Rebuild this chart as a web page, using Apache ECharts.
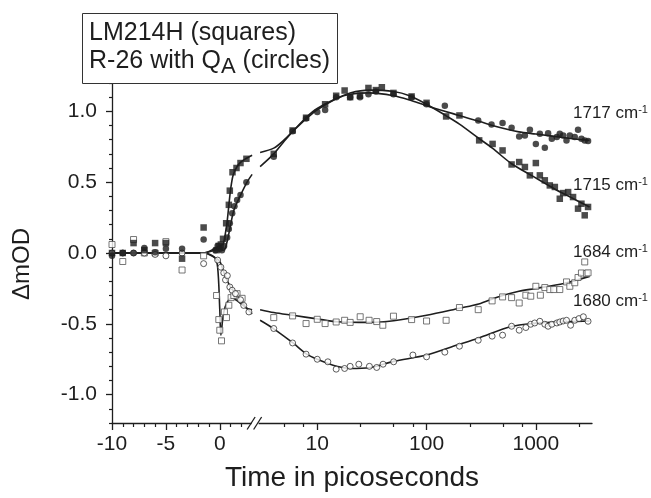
<!DOCTYPE html>
<html><head><meta charset="utf-8">
<script src="https://cdn.jsdelivr.net/npm/echarts@6/dist/echarts.min.js"></script>
<style>html,body{margin:0;padding:0;background:#fff}#c{width:651px;height:498px}</style>
</head><body><div id="c"></div>
<script>
// ---------- axis ticks ----------
const xLabelTimes = [-10, -5, 0, 10, 100, 1000];
const xLabelTexts = ['-10', '-5', '0', '10', '100', '1000'];
const xMinorLin = [-9, -8, -7, -6, -4, -3, -2, -1, 1, 2];
const xMinorLog = [5, 7.5, 25, 50, 75, 250, 500, 750, 2500];
const yLabelValues = [-1.0, -0.5, 0.0, 0.5, 1.0];
const yMinorValues = [-1.2,-1.1,-0.9,-0.8,-0.7,-0.6,-0.4,-0.3,-0.2,-0.1,0.1,0.2,0.3,0.4,0.6,0.7,0.8,0.9,1.1,1.2];

// ---------- measured data: 1715 cm-1, LM214H (filled squares) ----------
const sq1715T = [-10,-9,-8,-7,-6,-5,-3.5,-1.5,-0.3,-0.1,0.1,0.3,0.59,0.84,0.93,1.18,1.55,1.92,2.47,
  4.0,5.95,7.9,11.8,14.9,17.8,20,24.6,29.4,34.4,39,49.8,73,100,151,200,303,402,496,600,704,794,882,1000,1088,1208,1342,1492,1656,1778,1974,2190,2432,2612,2800,3004];
const sq1715V = [0.0,0.0,0.07,0.02,0.07,0.07,-0.04,0.18,0.02,0.05,0.06,0.10,0.21,0.34,0.44,0.57,0.60,0.635,0.665,
  0.70,0.865,0.955,1.05,1.11,1.147,1.10,1.11,1.165,1.15,1.17,1.13,1.105,1.06,0.964,0.971,0.795,0.77,0.724,0.625,0.642,0.607,0.548,0.635,0.548,0.513,0.477,0.466,0.383,0.423,0.43,0.395,0.313,0.348,0.266,0.325];

// ---------- 1717 cm-1, R-26 with QA (filled circles) ----------
const ci1717T = [-10,-9,-8,-7,-6,-5,-3.5,-1.5,-0.4,-0.2,0,0.2,0.4,0.68,0.84,0.93,1.15,1.36,1.61,1.92,2.47,
  4.0,5.95,7.9,10,11.8,14.9,20,24.6,29.4,34.4,49.8,73,100,147,297,393,496,600,704,794,882,1000,1088,1208,1295,1400,1556,1656,1778,1908,2046,2270,2432,2612,2800,3004];
const ci1717V = [-0.02,0.0,0.0,0.035,0.005,0.03,0.03,0.095,0.02,0.05,0.03,0.02,0.05,0.11,0.17,0.21,0.28,0.33,0.375,0.41,0.50,
  0.68,0.86,0.95,0.995,1.01,1.10,1.10,1.10,1.12,1.14,1.12,1.10,1.05,1.04,0.936,0.907,0.917,0.884,0.823,0.83,0.87,0.77,0.842,0.743,0.846,0.807,0.818,0.842,0.83,0.795,0.83,0.818,0.87,0.807,0.795,0.79];

// ---------- 1684 cm-1, LM214H (open squares) ----------
const sq1684T = [-10,-9,-8,-7,-6,-5,-3.5,-1.5,-0.3,-0.09,0,0.16,0.43,0.62,0.84,1.05,1.3,1.6,2.07,
  4.0,5.95,7.9,10,11.8,14.9,17.8,20,24.7,29.8,35,39.8,49.8,73,100,151,200,297,398,496,600,704,810,898,1000,1100,1208,1342,1460,1656,1908,2046,2270,2432,2612,2800,2900,3004];
const sq1684V = [0.06,-0.06,0.095,0.0,0.0,0.08,-0.12,-0.02,-0.30,-0.47,-0.545,-0.62,-0.416,-0.456,-0.369,-0.315,-0.30,-0.287,-0.32,
  -0.456,-0.444,-0.498,-0.468,-0.498,-0.487,-0.475,-0.49,-0.45,-0.475,-0.484,-0.51,-0.446,-0.47,-0.48,-0.475,-0.385,-0.40,-0.338,-0.31,-0.315,-0.353,-0.298,-0.305,-0.235,-0.298,-0.244,-0.258,-0.258,-0.258,-0.204,-0.235,-0.21,-0.173,-0.141,-0.063,-0.145,-0.14];

// ---------- 1680 cm-1, R-26 with QA (open circles) ----------
const ci1680T = [-10,-9,-8,-7,-6,-5,-3.5,-1.5,-0.2,0.1,0.37,0.53,0.7,0.93,1.15,1.45,1.92,2.22,2.7,
  4.0,5.95,7.9,10,12.5,14.9,17.8,20,24,30,35,40,50,75,100,147,200,297,398,496,600,704,810,898,977,1088,1208,1295,1400,1556,1656,1778,1908,2080,2270,2480,2720,3004];
const ci1680V = [0.0,0.0,0.0,0.0,-0.01,-0.02,0.0,-0.075,-0.05,-0.10,-0.14,-0.19,-0.16,-0.24,-0.263,-0.287,-0.33,-0.37,-0.416,
  -0.533,-0.635,-0.714,-0.75,-0.768,-0.82,-0.815,-0.80,-0.785,-0.80,-0.808,-0.785,-0.768,-0.72,-0.733,-0.70,-0.658,-0.616,-0.587,-0.58,-0.517,-0.545,-0.526,-0.503,-0.494,-0.482,-0.503,-0.517,-0.503,-0.494,-0.487,-0.48,-0.475,-0.51,-0.475,-0.463,-0.45,-0.482];

// ---------- fitted curves (linear part, then log part) ----------
const fit1715LinT = [-10,-1.5,-0.5,0,0.3,0.5,0.68,0.99,1.24,1.6,1.92,2.4,3];
const fit1715LinV = [0,0,0.03,0.05,0.06,0.13,0.22,0.44,0.55,0.61,0.64,0.665,0.69];
const fit1715LogT = [3,4,5,6,7,8,10,15,20,30,50,70,100,150,200,300,400,600,900,1500,2000,3100];
const fit1715LogV = [0.71,0.74,0.80,0.86,0.91,0.95,1.01,1.09,1.13,1.15,1.14,1.11,1.05,0.97,0.91,0.81,0.74,0.63,0.55,0.45,0.40,0.325];

const fit1717LinT = [-10,-1.5,-0.5,0,0.3,0.5,0.84,1.3,1.92,2.53,3];
const fit1717LinV = [0,0,0.02,0.03,0.02,0.03,0.137,0.30,0.407,0.50,0.555];
const fit1717LogT = [3,4,5,6,8,10,15,20,30,50,70,100,200,300,500,700,1000,2000,3100];
const fit1717LogV = [0.61,0.70,0.79,0.86,0.96,1.02,1.09,1.12,1.13,1.11,1.08,1.04,0.97,0.93,0.88,0.855,0.84,0.81,0.795];

const fit1684LinT = [-10,-1.5,-0.5,-0.2,0,0.1,0.3,0.5,0.84,1.2,2,2.5,3];
const fit1684LinV = [0,0,-0.03,-0.1,-0.4,-0.58,-0.45,-0.38,-0.33,-0.32,-0.36,-0.39,-0.40];
const fit1684LogT = [3,4,6,10,15,30,50,100,200,300,450,700,1000,1800,3100];
const fit1684LogV = [-0.40,-0.42,-0.44,-0.465,-0.485,-0.49,-0.478,-0.44,-0.39,-0.36,-0.31,-0.27,-0.25,-0.215,-0.165];

const fit1680LinT = [-10,-1.5,-0.5,0,0.3,0.6,1.0,1.5,2.0,2.5,3];
const fit1680LinV = [0,0,-0.03,-0.06,-0.12,-0.18,-0.24,-0.29,-0.34,-0.39,-0.43];
const fit1680LogT = [3,4,6,8,10,15,20,30,50,100,190,300,585,1000,1500,3100];
const fit1680LogV = [-0.475,-0.535,-0.635,-0.714,-0.75,-0.80,-0.815,-0.81,-0.765,-0.72,-0.65,-0.60,-0.52,-0.495,-0.488,-0.48];

// ---------- broken time axis: linear up to 3 ps, logarithmic after ----------
const LIN_END = 3, LOG_GAP = 0.74, DECADE = 10.14, T_MAX = 3264;
const linPos = t => t;
const logPos = t => LIN_END + LOG_GAP + (Math.log10(t) - Math.log10(LIN_END)) * DECADE;
const pos = t => (t <= LIN_END ? linPos(t) : logPos(t));
const X_MIN = -10, X_MAX = logPos(T_MAX);

const pts = (T, V) => T.map((t, i) => [pos(t), V[i]]);
const fitPts = (lt, lv, gt, gv) => lt.map((t, i) => [linPos(t), lv[i]]).concat([[null, null]], gt.map((t, i) => [logPos(t), gv[i]]));

const xLabelPos = xLabelTimes.map(pos);
const xMinorPos = xMinorLin.map(linPos).concat(xMinorLog.map(logPos));

const INK = '#1e1e1e';
const FONT = 'Liberation Sans, Arial, Helvetica, sans-serif';

const chart = echarts.init(document.getElementById('c'), null, {renderer: 'canvas'});

function fitSeries(data) {
  return {type: 'line', data: data, showSymbol: false, smooth: 0.3, connectNulls: false,
    lineStyle: {color: INK, width: 1.6}, silent: true, z: 2};
}
function scat(data, symbol, open, border) {
  return {type: 'scatter', data: data, symbol: symbol, symbolSize: open ? 6 : 6.5, z: 3,
    itemStyle: open ? {color: '#fff', borderColor: border, borderWidth: 1} : {color: INK}};
}

chart.setOption({
  animation: false,
  backgroundColor: '#fff',
  grid: {left: 112, right: 59, top: 83, bottom: 75, containLabel: false},
  xAxis: [{
    type: 'value', min: X_MIN, max: X_MAX, position: 'bottom',
    name: 'Time in picoseconds', nameLocation: 'middle', nameGap: 41,
    nameTextStyle: {fontFamily: FONT, fontSize: 28, color: INK},
    axisLine: {show: true, onZero: false, lineStyle: {color: INK, width: 1.3}},
    axisTick: {show: true, customValues: xLabelPos, length: 7, lineStyle: {color: INK, width: 1.3}},
    axisLabel: {show: true, customValues: xLabelPos, margin: 11, fontFamily: FONT, fontSize: 21, color: INK,
      formatter: v => { let i = xLabelPos.findIndex(p => Math.abs(p - v) < 1e-6); return i >= 0 ? xLabelTexts[i] : ''; }},
    splitLine: {show: false}
  }, {
    type: 'value', min: X_MIN, max: X_MAX, position: 'bottom', gridIndex: 0,
    axisLine: {show: false, onZero: false}, axisLabel: {show: false}, splitLine: {show: false},
    axisTick: {show: true, customValues: xMinorPos, length: 4, lineStyle: {color: INK, width: 1.2}}
  }],
  yAxis: [{
    type: 'value', min: -1.2, max: 1.2, position: 'left',
    axisLine: {show: true, onZero: false, lineStyle: {color: INK, width: 1.3}},
    axisTick: {show: true, customValues: yLabelValues, length: 6, lineStyle: {color: INK, width: 1.3}},
    axisLabel: {show: true, customValues: yLabelValues, margin: 15, fontFamily: FONT, fontSize: 21, color: INK,
      formatter: v => v.toFixed(1)},
    splitLine: {show: false}
  }, {
    type: 'value', min: -1.2, max: 1.2, position: 'left',
    axisLine: {show: false, onZero: false}, axisLabel: {show: false}, splitLine: {show: false},
    axisTick: {show: true, customValues: yMinorValues, length: 3, lineStyle: {color: INK, width: 1.2}}
  }],
  series: [
    fitSeries(fitPts(fit1715LinT, fit1715LinV, fit1715LogT, fit1715LogV)),
    fitSeries(fitPts(fit1717LinT, fit1717LinV, fit1717LogT, fit1717LogV)),
    fitSeries(fitPts(fit1684LinT, fit1684LinV, fit1684LogT, fit1684LogV)),
    fitSeries(fitPts(fit1680LinT, fit1680LinV, fit1680LogT, fit1680LogV)),
    scat(pts(sq1684T, sq1684V), 'rect', true, '#555'),
    scat(pts(ci1680T, ci1680V), 'circle', true, '#333'),
    scat(pts(sq1715T, sq1715V), 'rect', false),
    scat(pts(ci1717T, ci1717V), 'circle', false)
  ]
});

// decorations: legend box, y title, band labels, axis break mark
const bx = chart.convertToPixel({xAxisIndex: 0}, LIN_END + LOG_GAP / 2);
const by = chart.convertToPixel({yAxisIndex: 0}, -1.2);
const cmLabel = (txt, x, y) => ({type: 'text', left: x, top: y,
  style: {text: '{a|' + txt + ' cm}{s|-1}', rich: {
    a: {fontFamily: FONT, fontSize: 17, fill: INK, verticalAlign: 'bottom'},
    s: {fontFamily: FONT, fontSize: 11, fill: INK, verticalAlign: 'bottom', padding: [0, 0, 7, 0]}}}});
chart.setOption({graphic: [
  {type: 'rect', shape: {x: 82.5, y: 13.5, width: 255, height: 70}, style: {fill: '#fff', stroke: '#333', lineWidth: 1}, z: 10},
  {type: 'text', left: 89, top: 21, z: 11, style: {text: 'LM214H (squares)', fontFamily: FONT, fontSize: 25, fill: INK}},
  {type: 'text', left: 89, top: 49, z: 11, style: {text: 'R-26 with Q{sub|A} (circles)', fontFamily: FONT, fontSize: 25, fill: INK,
    rich: {sub: {fontFamily: FONT, fontSize: 22, fill: INK, padding: [11, 0, 0, 0]}}}},
  {type: 'text', x: 22, y: 264, rotation: Math.PI / 2, z: 11,
    style: {text: 'ΔmOD', fontFamily: FONT, fontSize: 24, fill: INK, align: 'center', verticalAlign: 'middle'}},
  cmLabel('1717', 573, 104),
  cmLabel('1715', 573, 176),
  cmLabel('1684', 573, 243),
  cmLabel('1680', 573, 292),
  {type: 'rect', shape: {x: bx - 4.5, y: by - 2, width: 7, height: 4}, style: {fill: '#fff'}, z: 20},
  {type: 'line', shape: {x1: bx - 9, y1: by + 6.5, x2: bx - 1, y2: by - 6}, style: {stroke: INK, lineWidth: 1.3}, z: 21},
  {type: 'line', shape: {x1: bx - 2.5, y1: by + 6.5, x2: bx + 5.5, y2: by - 6}, style: {stroke: INK, lineWidth: 1.3}, z: 21}
]});
</script></body></html>
